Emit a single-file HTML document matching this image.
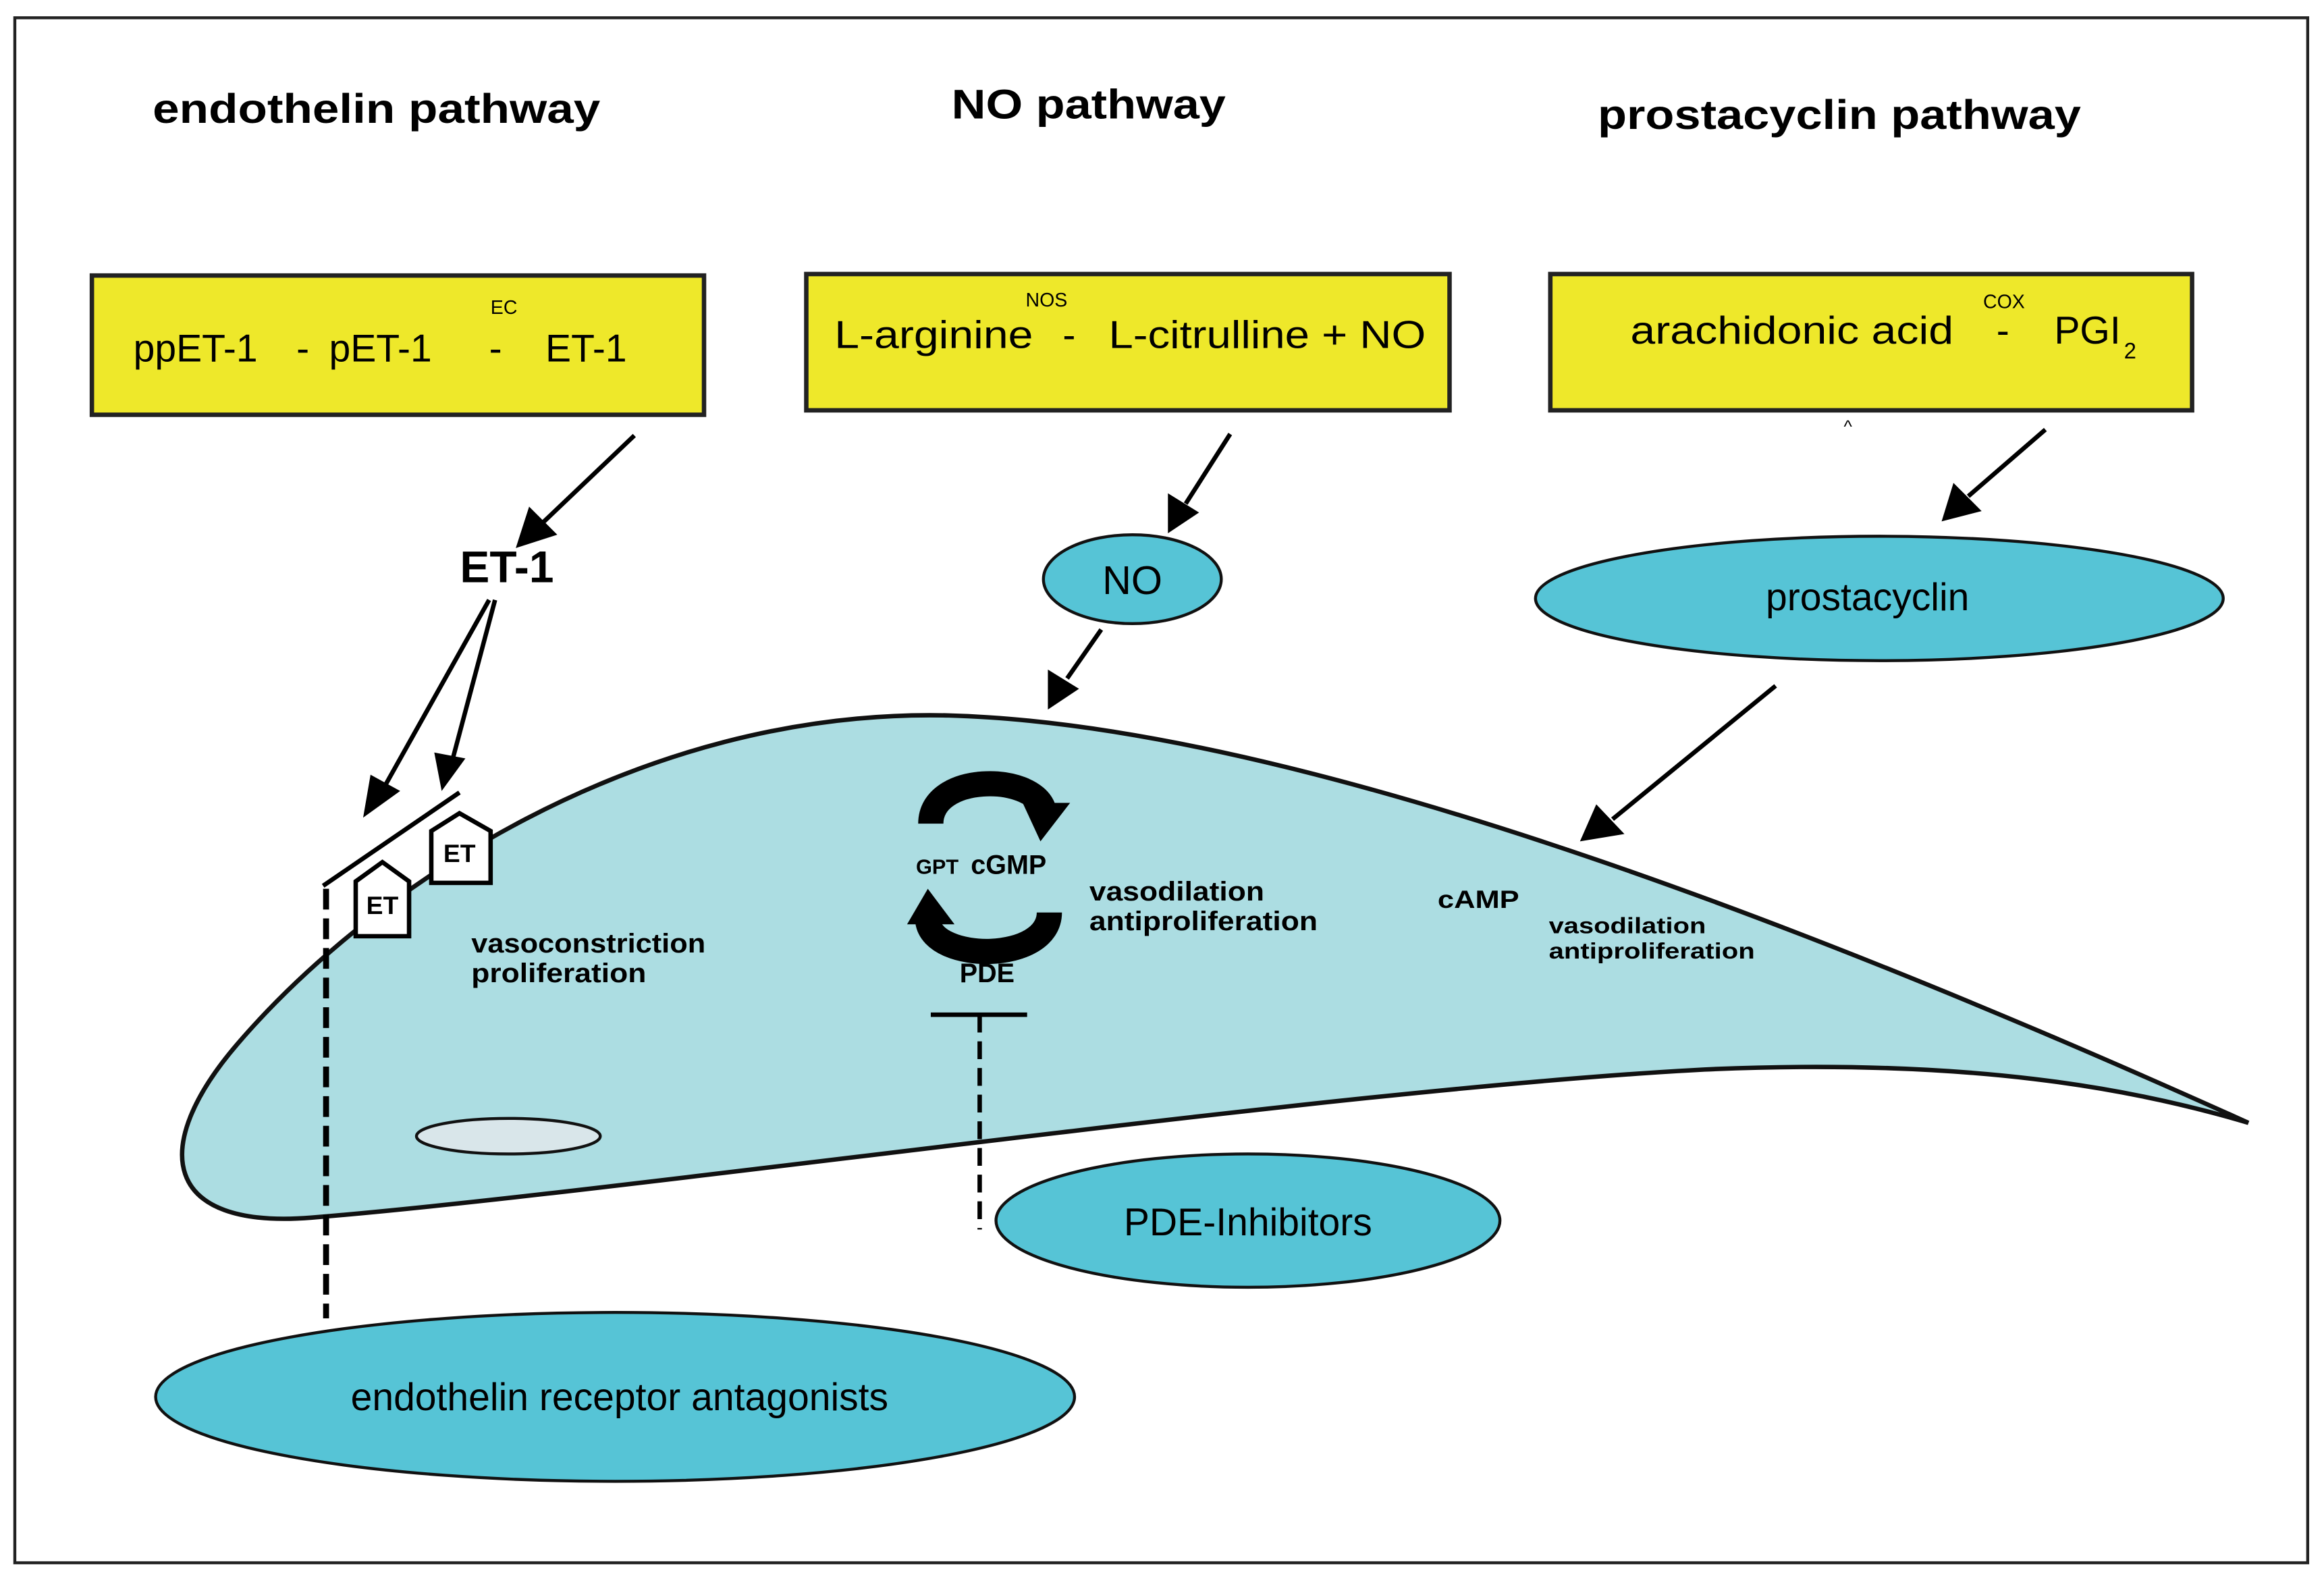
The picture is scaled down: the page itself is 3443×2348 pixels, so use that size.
<!DOCTYPE html>
<html><head><meta charset="utf-8"><style>
html,body{margin:0;padding:0;background:#fff}
svg{display:block}
text{font-family:"Liberation Sans",sans-serif;white-space:pre}
</style></head><body>
<svg width="3443" height="2348" viewBox="0 0 1568 1070" preserveAspectRatio="none" xmlns="http://www.w3.org/2000/svg" xml:space="preserve">
<rect x="10" y="12" width="1547" height="1043" fill="#fff" stroke="#222" stroke-width="2"/>
<!-- titles -->
<text x="103" y="83" font-size="28" font-weight="bold" textLength="302" lengthAdjust="spacingAndGlyphs">endothelin pathway</text>
<text x="642" y="80" font-size="28" font-weight="bold" textLength="185" lengthAdjust="spacingAndGlyphs">NO pathway</text>
<text x="1078" y="87" font-size="28" font-weight="bold" textLength="326" lengthAdjust="spacingAndGlyphs">prostacyclin pathway</text>
<!-- yellow boxes -->
<rect x="62" y="186" width="413" height="94" fill="#eee82a" stroke="#222" stroke-width="3"/>
<text x="90" y="244" font-size="26">ppET-1</text>
<text x="200" y="244" font-size="26">-</text>
<text x="222" y="244" font-size="26">pET-1</text>
<text x="330" y="244" font-size="26">-</text>
<text x="368" y="244" font-size="26">ET-1</text>
<text x="331" y="212" font-size="13">EC</text>
<rect x="544" y="185" width="434" height="92" fill="#eee82a" stroke="#222" stroke-width="3"/>
<text x="563" y="235" font-size="26" textLength="134" lengthAdjust="spacingAndGlyphs">L-arginine</text>
<text x="717" y="235" font-size="26">-</text>
<text x="748" y="235" font-size="26" textLength="214" lengthAdjust="spacingAndGlyphs">L-citrulline + NO</text>
<text x="692" y="207" font-size="13">NOS</text>
<rect x="1046" y="185" width="433" height="92" fill="#eee82a" stroke="#222" stroke-width="3"/>
<text x="1100" y="232" font-size="26" textLength="218" lengthAdjust="spacingAndGlyphs">arachidonic acid</text>
<text x="1347" y="232" font-size="26">-</text>
<text x="1386" y="232" font-size="26">PGI</text>
<text x="1433" y="242" font-size="15">2</text>
<text x="1338" y="208" font-size="13">COX</text>
<text x="1244" y="292" font-size="12">^</text>
<!-- cell -->
<path d="M1517 758 C1300 660 900 490 640 483 C430 478 250 600 160 705 C100 775 110 830 210 822 C420 805 900 735 1150 722 C1330 714 1440 735 1517 758 Z" fill="#acdde2" stroke="#111" stroke-width="3"/>
<ellipse cx="343" cy="767" rx="62" ry="12" fill="#d9e6ea" stroke="#111" stroke-width="2"/>
<!-- arrows -->
<g stroke="#000" stroke-width="3" fill="none">
<line x1="428" y1="294" x2="365" y2="354"/>
<line x1="330" y1="405" x2="260" y2="530"/>
<line x1="334" y1="405" x2="305" y2="514"/>
<line x1="830" y1="293" x2="800" y2="340"/>
<line x1="743" y1="425" x2="720" y2="458"/>
<line x1="1380" y1="290" x2="1328" y2="335"/>
<line x1="1198" y1="463" x2="1088" y2="553"/>
</g>
<g fill="#000">
<polygon points="348,370 357,342 376,361"/>
<polygon points="245,552 250,523 270,534"/>
<polygon points="298,534 293,508 314,512"/>
<polygon points="788,360 788,333 809,346"/>
<polygon points="707,479 707,452 728,465"/>
<polygon points="1310,352 1318,326 1337,345"/>
<polygon points="1066,568 1077,543 1096,563"/>
</g>
<text x="342" y="393" font-size="30" font-weight="bold" text-anchor="middle">ET-1</text>
<!-- membrane + receptors -->
<line x1="220" y1="600" x2="220" y2="890" stroke="#000" stroke-width="4" stroke-dasharray="14,6"/>
<line x1="218" y1="598" x2="310" y2="535" stroke="#000" stroke-width="3"/>
<polygon points="240,632 240,595 258,582 276,595 276,632" fill="#fff" stroke="#000" stroke-width="3"/>
<text x="258" y="617" font-size="17" font-weight="bold" text-anchor="middle">ET</text>
<polygon points="291,596 291,561 310,549 331,561 331,596" fill="#fff" stroke="#000" stroke-width="3"/>
<text x="310" y="582" font-size="17" font-weight="bold" text-anchor="middle">ET</text>
<text x="318" y="643" font-size="18" font-weight="bold" textLength="158" lengthAdjust="spacingAndGlyphs">vasoconstriction</text>
<text x="318" y="663" font-size="18" font-weight="bold" textLength="118" lengthAdjust="spacingAndGlyphs">proliferation</text>
<!-- NO cycle -->
<path d="M628 556 C628 522 696 522 704 546" fill="none" stroke="#000" stroke-width="17"/>
<polygon points="690,542 722,542 702,568" fill="#000"/>
<path d="M708 616 C708 650 630 650 626 622" fill="none" stroke="#000" stroke-width="17"/>
<polygon points="612,624 644,624 626,600" fill="#000"/>
<text x="618" y="590" font-size="14" font-weight="bold">GPT</text>
<text x="655" y="590" font-size="18" font-weight="bold">cGMP</text>
<text x="666" y="663" font-size="18" font-weight="bold" text-anchor="middle">PDE</text>
<line x1="628" y1="685" x2="693" y2="685" stroke="#000" stroke-width="3"/>
<line x1="661" y1="685" x2="661" y2="830" stroke="#000" stroke-width="3" stroke-dasharray="12,6"/>
<text x="735" y="608" font-size="18" font-weight="bold" textLength="118" lengthAdjust="spacingAndGlyphs">vasodilation</text>
<text x="735" y="628" font-size="18" font-weight="bold" textLength="154" lengthAdjust="spacingAndGlyphs">antiproliferation</text>
<text x="970" y="613" font-size="17" font-weight="bold" textLength="55" lengthAdjust="spacingAndGlyphs">cAMP</text>
<text x="1045" y="630" font-size="15" font-weight="bold" textLength="106" lengthAdjust="spacingAndGlyphs">vasodilation</text>
<text x="1045" y="647" font-size="15" font-weight="bold" textLength="139" lengthAdjust="spacingAndGlyphs">antiproliferation</text>
<!-- ellipses -->
<ellipse cx="764" cy="391" rx="60" ry="30" fill="#56c4d6" stroke="#111" stroke-width="2"/>
<text x="764" y="401" font-size="27" text-anchor="middle" font-family="DejaVu Sans">NO</text>
<ellipse cx="1268" cy="404" rx="232" ry="42" fill="#56c4d6" stroke="#111" stroke-width="2"/>
<text x="1260" y="412" font-size="26" text-anchor="middle" font-family="DejaVu Sans">prostacyclin</text>
<ellipse cx="842" cy="824" rx="170" ry="45" fill="#56c4d6" stroke="#111" stroke-width="2"/>
<text x="842" y="834" font-size="26" text-anchor="middle" font-family="DejaVu Sans">PDE-Inhibitors</text>
<ellipse cx="415" cy="943" rx="310" ry="57" fill="#56c4d6" stroke="#111" stroke-width="2"/>
<text x="418" y="952" font-size="26" text-anchor="middle" font-family="DejaVu Sans">endothelin receptor antagonists</text>
</svg>
</body></html>
